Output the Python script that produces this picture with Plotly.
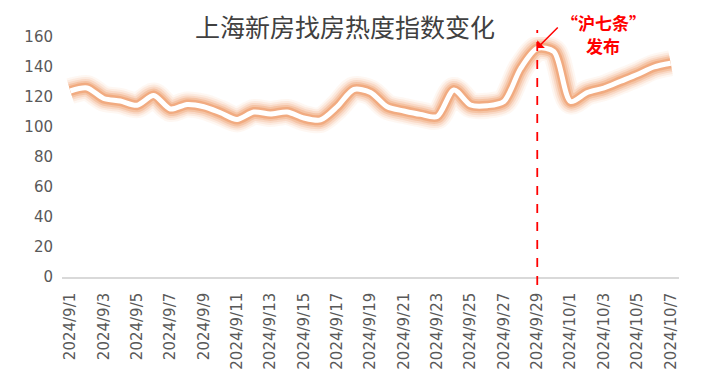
import plotly.graph_objects as go

dates = [f"2024/9/{d}" for d in range(1, 31)] + [f"2024/10/{d}" for d in range(1, 8)]
values = [124, 126, 119, 117.3, 114.5, 121, 112, 115, 113.5, 109.5, 105, 110, 108.7, 110,
          106, 104.7, 113.5, 125, 123, 113.5, 110.7, 108.4, 107, 124.7, 114.7, 114.2, 117,
          139, 152.4, 150.2, 117, 123, 126, 130.5, 135, 140, 142.5]
tick_labels = dates[::2]
y_ticks = list(range(0, 161, 20))
title_text = "上海新房找房热度指数变化"
note_lines = ["“沪七条”", "发布"]
event_date = "2024/9/29"

# page is offset by the body's 8px margin; work in page pixels and convert
OFF = 8
W, H = 708, 388
px_left, px_right, px_top, px_bottom = 62, 679, 37, 277
L, T = px_left - OFF, px_top - OFF
R, B = W - (px_right - OFF), H - (px_bottom - OFF)
PW, PH = px_right - px_left, px_bottom - px_top


def py2paper(py):
    return (px_bottom - py) / PH


def px2paper(px):
    return (px - px_left) / PW


fig = go.Figure()

glow = [(26, 0.07), (22, 0.11), (18, 0.17), (14, 0.26), (10, 0.40)]
for w, a in glow:
    fig.add_trace(go.Scatter(x=dates, y=values, mode="lines",
                             line=dict(color=f"rgba(236,135,75,{a})", width=w, shape="spline", smoothing=0.8),
                             hoverinfo="skip", showlegend=False))
fig.add_trace(go.Scatter(x=dates, y=values, mode="lines",
                         line=dict(color="white", width=5, shape="spline", smoothing=0.8),
                         showlegend=False))

fig.add_shape(type="line", xref="x", yref="paper", x0=event_date, x1=event_date,
              y0=py2paper(285), y1=py2paper(30),
              line=dict(color="#ff0000", width=1.8, dash="dash"))

fig.add_annotation(x=event_date, y=152.7, xref="x", yref="y", ax=22, ay=-22,
                   showarrow=True, arrowhead=1, arrowsize=1.2, arrowwidth=1.5, arrowcolor="#ff0000",
                   text="")
for txt, py in zip(note_lines, [22, 45]):
    fig.add_annotation(x=px2paper(603), y=py2paper(py), xref="paper", yref="paper",
                       xanchor="center", yanchor="middle", text=txt, showarrow=False,
                       font=dict(family="Noto Sans CJK SC", size=17, color="#ff0000", weight="bold"))

fig.update_layout(
    width=W, height=H,
    margin=dict(l=L, r=R, t=T, b=B, autoexpand=False),
    paper_bgcolor="white", plot_bgcolor="white",
    title=dict(text=title_text, x=(345 - OFF) / W, xanchor="center", y=1 - (28 - OFF) / H, yanchor="middle",
               font=dict(family="Noto Sans CJK SC", size=25, color="#404040")),
    font=dict(family="DejaVu Sans, sans-serif", color="#595959"),
)
fig.update_xaxes(type="category", categoryorder="array", categoryarray=dates,
                 tickmode="array", tickvals=tick_labels, ticktext=tick_labels,
                 tickangle=-90, tickfont=dict(size=15, color="#595959"),
                 showgrid=False, showline=True, linecolor="#d9d9d9", linewidth=1.5,
                 ticks="", ticklabelstandoff=8, automargin=False,
                 range=[-0.5, len(dates) - 0.5], zeroline=False)
fig.update_yaxes(range=[0, 160], tickvals=y_ticks, tickfont=dict(size=15, color="#595959"),
                 showgrid=False, showline=False, zeroline=False, ticks="", ticklabelstandoff=8,
                 automargin=False)

fig.write_html("out.html")
